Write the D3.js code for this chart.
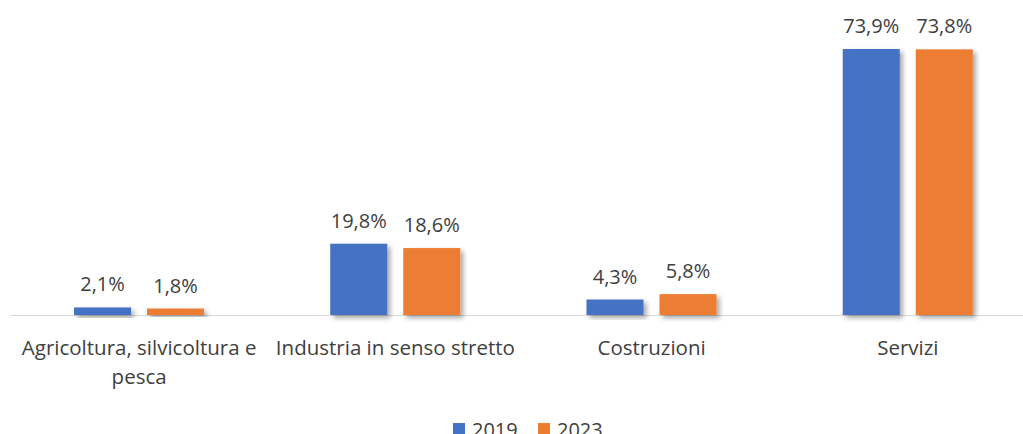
<!DOCTYPE html>
<html>
<head>
<meta charset="utf-8">
<script src="https://cdn.jsdelivr.net/npm/d3@7"></script>
<style>
  html, body { margin: 0; padding: 0; background: #fff; overflow: hidden; }
  text { font-family: "Open Sans", sans-serif; fill: #404040; }
</style>
</head>
<body>
<div id="chart"></div>
<script>
var categories = ["Agricoltura, silvicoltura e pesca", "Industria in senso stretto", "Costruzioni", "Servizi"];
var seriesNames = ["2019", "2023"];
var values2019 = [2.1, 19.8, 4.3, 73.9];
var values2023 = [1.8, 18.6, 5.8, 73.8];
var colors = ["#4472C4", "#ED7D31"];

var width = 1023, height = 434;
var baseY = 315;

var svg = d3.select("#chart").append("svg")
    .attr("width", width)
    .attr("height", height);

var defs = svg.append("defs");
var f = defs.append("filter").attr("id", "shadow")
    .attr("x", "-20%").attr("y", "-20%").attr("width", "150%").attr("height", "150%");
f.append("feDropShadow")
    .attr("dx", 3).attr("dy", 3)
    .attr("stdDeviation", 2.5)
    .attr("flood-color", "#000")
    .attr("flood-opacity", 0.35);

var x = d3.scaleBand().domain(categories).range([11, 1036]).paddingInner(0).paddingOuter(0);
var xs = d3.scaleBand().domain(seriesNames).range([63, 193]).paddingInner(16 / 73);
var y = d3.scaleLinear().domain([0, 73.9]).range([baseY, 49]);

var data = categories.map(function (c, i) {
    return { cat: c, vals: [values2019[i], values2023[i]] };
});

// axis line
svg.append("line")
    .attr("x1", 10).attr("x2", 1023)
    .attr("y1", baseY + 0.5).attr("y2", baseY + 0.5)
    .attr("stroke", "#d9d9d9").attr("stroke-width", 1);

var group = svg.selectAll(".grp")
    .data(data).enter()
    .append("g")
    .attr("class", "grp")
    .attr("transform", function (d) { return "translate(" + x(d.cat) + ",0)"; });

group.selectAll("rect")
    .data(function (d) { return d.vals.map(function (v, i) { return { v: v, s: seriesNames[i], i: i }; }); })
    .enter().append("rect")
    .attr("x", function (d) { return xs(d.s); })
    .attr("y", function (d) { return y(d.v); })
    .attr("width", xs.bandwidth())
    .attr("height", function (d) { return baseY - y(d.v); })
    .attr("fill", function (d) { return colors[d.i]; })
    .attr("filter", "url(#shadow)");

group.selectAll(".val")
    .data(function (d) { return d.vals.map(function (v, i) { return { v: v, s: seriesNames[i] }; }); })
    .enter().append("text")
    .attr("class", "val")
    .attr("x", function (d) { return xs(d.s) + xs.bandwidth() / 2; })
    .attr("y", function (d) { return y(d.v) - 16; })
    .attr("text-anchor", "middle")
    .style("font-size", "20px")
    .text(function (d) { return d.v.toFixed(1).replace(".", ",") + "%"; });

// category labels, wrapped to band width
var maxW = 252;
group.each(function (d) {
    var g = d3.select(this);
    var t = g.append("text")
        .attr("text-anchor", "middle")
        .style("font-size", "20.5px");
    var words = d.cat.split(" "), lines = [], line = [];
    var probe = t.append("tspan");
    words.forEach(function (w) {
        line.push(w);
        probe.text(line.join(" "));
        if (probe.node().getComputedTextLength() > maxW && line.length > 1) {
            line.pop();
            lines.push(line.join(" "));
            line = [w];
        }
    });
    lines.push(line.join(" "));
    probe.remove();
    lines.forEach(function (l, k) {
        t.append("tspan")
            .attr("x", x.bandwidth() / 2)
            .attr("y", 355 + k * 29)
            .text(l);
    });
});

// legend
var legend = svg.append("g").attr("transform", "translate(453,0)");
var li = legend.selectAll(".li")
    .data(seriesNames).enter()
    .append("g")
    .attr("transform", function (d, i) { return "translate(" + (i * 85) + ",0)"; });
li.append("rect")
    .attr("x", 0).attr("y", 423)
    .attr("width", 12).attr("height", 12)
    .attr("fill", function (d, i) { return colors[i]; });
li.append("text")
    .attr("x", 19).attr("y", 437)
    .style("font-size", "20px")
    .text(function (d) { return d; });
</script>
</body>
</html>
